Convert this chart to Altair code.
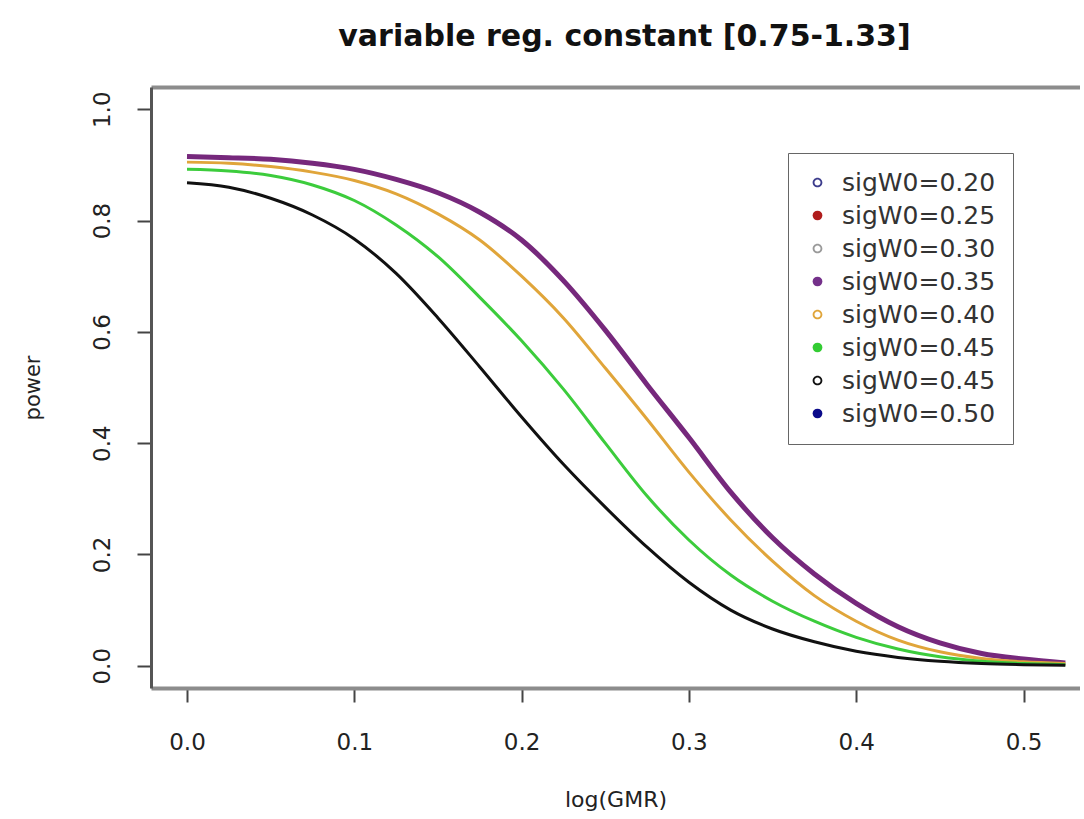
import altair as alt
import pandas as pd

# ---- data ----
x_vals = [0.0, 0.025, 0.05, 0.075, 0.1, 0.125, 0.15, 0.175, 0.2, 0.225, 0.25,
          0.275, 0.3, 0.325, 0.35, 0.375, 0.4, 0.425, 0.45, 0.475, 0.5, 0.525]

power_035 = [0.915, 0.913, 0.910, 0.903, 0.892, 0.874, 0.850, 0.815, 0.765, 0.692, 0.603,
             0.505, 0.410, 0.312, 0.230, 0.165, 0.112, 0.070, 0.041, 0.022, 0.012, 0.005]
power_040 = [0.905, 0.903, 0.897, 0.887, 0.872, 0.848, 0.812, 0.765, 0.700, 0.625, 0.535,
             0.443, 0.348, 0.262, 0.188, 0.126, 0.080, 0.046, 0.025, 0.013, 0.007, 0.004]
power_045 = [0.892, 0.889, 0.881, 0.864, 0.836, 0.792, 0.735, 0.662, 0.584, 0.497, 0.400,
             0.305, 0.226, 0.163, 0.116, 0.080, 0.051, 0.030, 0.016, 0.008, 0.004, 0.002]
power_045b = [0.868, 0.860, 0.840, 0.810, 0.767, 0.705, 0.625, 0.537, 0.447, 0.362, 0.285,
              0.213, 0.150, 0.100, 0.066, 0.043, 0.026, 0.015, 0.008, 0.004, 0.002, 0.001]

legend_keys = ["sigW0=0.20", "sigW0=0.25", "sigW0=0.30", "sigW0=0.35",
               "sigW0=0.40", "sigW0=0.45", "sigW0=0.45 ", "sigW0=0.50"]

line_series = [
    ("sigW0=0.35", power_035),
    ("sigW0=0.40", power_040),
    ("sigW0=0.45", power_045),
    ("sigW0=0.45 ", power_045b),
]

# ---- styles ----
colors = ["#3c3c8c", "#b01c1c", "#9a9a9a", "#74308a",
          "#e0a53a", "#33cc33", "#111111", "#0a0a8a"]
line_colors = {"sigW0=0.35": "#76287c", "sigW0=0.40": "#e0a53a",
               "sigW0=0.45": "#3ccc3c", "sigW0=0.45 ": "#111111"}
line_widths = {"sigW0=0.35": 5, "sigW0=0.40": 3, "sigW0=0.45": 3, "sigW0=0.45 ": 3}
RING = ("M-1,0A1,1,0,1,0,1,0A1,1,0,1,0,-1,0Z"
        "M-0.62,0A0.62,0.62,0,1,1,0.62,0A0.62,0.62,0,1,1,-0.62,0Z")
shapes = [RING, "circle", RING, "circle", RING, "circle", RING, "circle"]

rows = []
for key, vals in line_series:
    for xv, pv in zip(x_vals, vals):
        rows.append({"series": key, "x": xv, "power": pv})
df = pd.DataFrame(rows)

FONT = "DejaVu Sans"
XDOM = [-0.02152, 0.53377]
YDOM = [-0.04, 1.04]
x_scale = alt.Scale(domain=XDOM, nice=False, zero=False)
y_scale = alt.Scale(domain=YDOM, nice=False, zero=False)

y_axis = alt.Axis(
    values=[0.0, 0.2, 0.4, 0.6, 0.8, 1.0], format=".1f", grid=False,
    domainColor="#555555", domainWidth=3, tickColor="#444444", tickWidth=2,
    tickSize=14, labelAngle=-90, labelAlign="center", labelBaseline="alphabetic",
    labelPadding=28, labelFont=FONT, labelFontSize=23, labelColor="#222222",
    title="power", titleFont=FONT, titleFontSize=21, titleFontWeight="normal",
    titleColor="#222222", titlePadding=48,
)
x_axis = alt.Axis(
    values=[0.0, 0.1, 0.2, 0.3, 0.4, 0.5], format=".1f", grid=False,
    domainColor="#8c8c8c", domainWidth=4, tickColor="#444444", tickWidth=2,
    tickSize=14, labelPadding=29, labelFont=FONT, labelFontSize=23,
    labelColor="#222222", title="log(GMR)", titleFont=FONT, titleFontSize=22,
    titleFontWeight="normal", titleColor="#222222", titlePadding=35,
)
top_axis = alt.Axis(
    orient="top", labels=False, ticks=False, grid=False, domain=True,
    domainColor="#8c8c8c", domainWidth=4, title=None,
)

line_layers = []
for key, _ in line_series:
    line_layers.append(
        alt.Chart(df).transform_filter(alt.datum.series == key)
        .mark_line(interpolate="monotone", color=line_colors[key], strokeWidth=line_widths[key])
        .encode(
            x=alt.X("x:Q", scale=x_scale, axis=x_axis),
            y=alt.Y("power:Q", scale=y_scale, axis=y_axis),
        )
    )
lines = alt.layer(*line_layers)

legend = alt.Legend(
    orient="none", legendX=637, legendY=66, title=None, padding=17,
    fillColor="white", strokeColor="#666666",
    labelFont=FONT, labelFontSize=25, labelColor="#333333",
    symbolSize=95, symbolStrokeWidth=0, rowPadding=7, labelOffset=12,
)

legend_layer = alt.Chart(df).transform_filter("false").mark_point(filled=True, size=95, opacity=1).encode(
    x=alt.X("x:Q", scale=x_scale, axis=top_axis),
    y=alt.Y("power:Q", scale=y_scale, axis=y_axis),
    color=alt.Color("series:N", scale=alt.Scale(domain=legend_keys, range=colors), legend=legend),
    shape=alt.Shape("series:N", scale=alt.Scale(domain=legend_keys, range=shapes), legend=legend),
)

chart = alt.layer(lines, legend_layer).resolve_axis(x="independent").properties(
    width=929,
    height=601,
    autosize=alt.AutoSizeParams(type="none"),
    padding={"left": 151, "top": 87, "right": 0, "bottom": 124},
    title=alt.TitleParams(
        "variable reg. constant [0.75-1.33]", font=FONT, fontSize=30,
        fontWeight="bold", color="#111111", anchor="middle", baseline="alphabetic",
        offset=11, dx=9,
    ),
).configure_view(stroke=None).configure_legend(strokeWidth=2).configure(background="white")

chart.save("out.html", embed_options={"renderer": "svg", "actions": False})
